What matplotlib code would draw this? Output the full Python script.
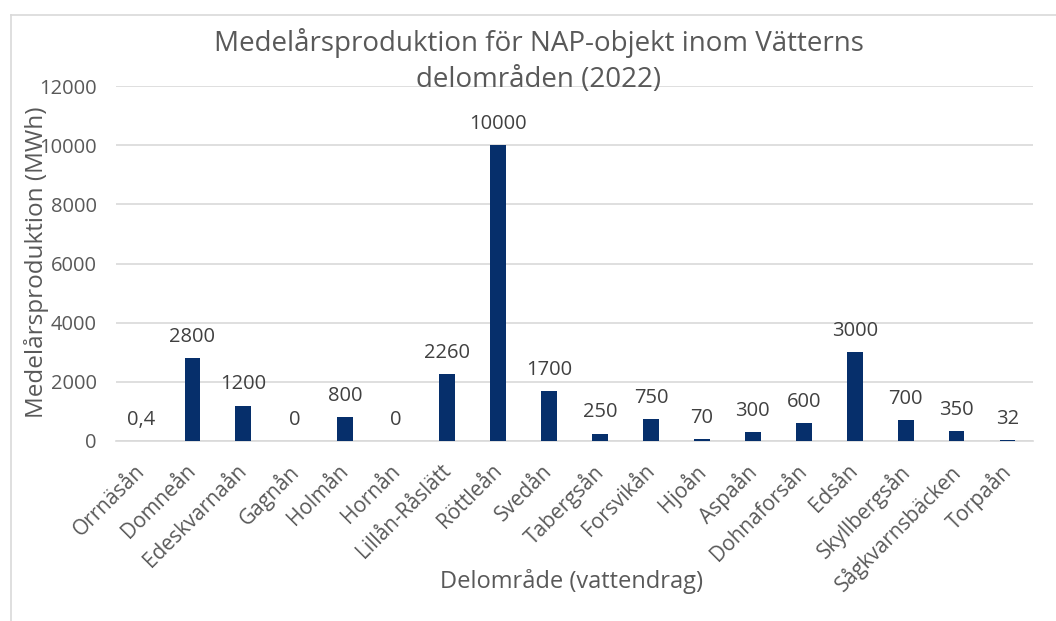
import matplotlib
matplotlib.use("Agg")
import matplotlib.pyplot as plt
from matplotlib.lines import Line2D
from matplotlib.transforms import ScaledTranslation

categories = ["Orrnäsån", "Domneån", "Edeskvarnaån", "Gagnån", "Holmån", "Hornån",
              "Lillån-Råslätt", "Röttleån", "Svedån", "Tabergsån", "Forsvikån", "Hjoån",
              "Aspaån", "Dohnaforsån", "Edsån", "Skyllbergsån", "Sågkvarnsbäcken", "Torpaån"]
values = [0.4, 2800, 1200, 0, 800, 0, 2260, 10000, 1700, 250, 750, 70, 300, 600, 3000, 700, 350, 32]
value_labels = ["0,4", "2800", "1200", "0", "800", "0", "2260", "10000", "1700", "250", "750",
                "70", "300", "600", "3000", "700", "350", "32"]
yticks = [0, 2000, 4000, 6000, 8000, 10000, 12000]

plt.rcParams['font.family'] = ['Open Sans', 'DejaVu Sans']
txt = '#595959'
bar_color = '#062F6B'
grid = '#D9D9D9'

fig = plt.figure(figsize=(10.56, 6.21), dpi=100)
ax = fig.add_axes([116/1056, 1-441/621, (1033-116)/1056, (441-86)/621])

x = list(range(len(categories)))
ax.bar(x, values, width=0.31, color=bar_color, zorder=3)
for xi, v, lab in zip(x, values, value_labels):
    ax.annotate(lab, (xi, v), xytext=(0, 8), textcoords='offset points',
                ha='center', va='bottom', fontsize=14.5, color='#404040')

ax.set_xlim(-0.5, len(categories) - 0.5)
ax.set_ylim(0, 12000)
ax.set_yticks(yticks)
ax.set_yticklabels([str(t) for t in yticks], fontsize=14.5, color=txt)
ax.yaxis.grid(True, color=grid, linewidth=1.2, zorder=0)
ax.set_axisbelow(True)
ax.tick_params(axis='y', length=0, pad=14)
ax.tick_params(axis='x', length=0, pad=14)
ax.set_xticks(x)
ax.set_xticklabels(categories, rotation=45, ha='right', va='top', rotation_mode='anchor',
                   fontsize=15, color=txt)
shift = ScaledTranslation(-7/100, 0, fig.dpi_scale_trans)
for lbl in ax.get_xticklabels():
    lbl.set_transform(lbl.get_transform() + shift)
for s in ['top', 'right', 'left']:
    ax.spines[s].set_visible(False)
ax.spines['bottom'].set_color(grid)
ax.spines['bottom'].set_linewidth(1.2)

fig.text(37/1056, 1-262/621, "Medelårsproduktion (MWh)", rotation=90, ha='center', va='center',
         fontsize=17.5, color=txt)
fig.text(571/1056, 1-582/621, "Delområde (vattendrag)", ha='center', va='center',
         fontsize=17, color=txt)
fig.text(539/1056, 1-61/621, "Medelårsproduktion för NAP-objekt inom Vätterns\ndelområden (2022)",
         ha='center', va='center', fontsize=20, color=txt, linespacing=1.4)

fig.add_artist(Line2D([11/1056, 1], [1-15/621, 1-15/621], color='#D9D9D9', linewidth=1.2,
                      transform=fig.transFigure))
fig.add_artist(Line2D([11/1056, 11/1056], [0, 1-15/621], color='#D9D9D9', linewidth=1.2,
                      transform=fig.transFigure))

fig.savefig("out.png", dpi=100, facecolor='white')
